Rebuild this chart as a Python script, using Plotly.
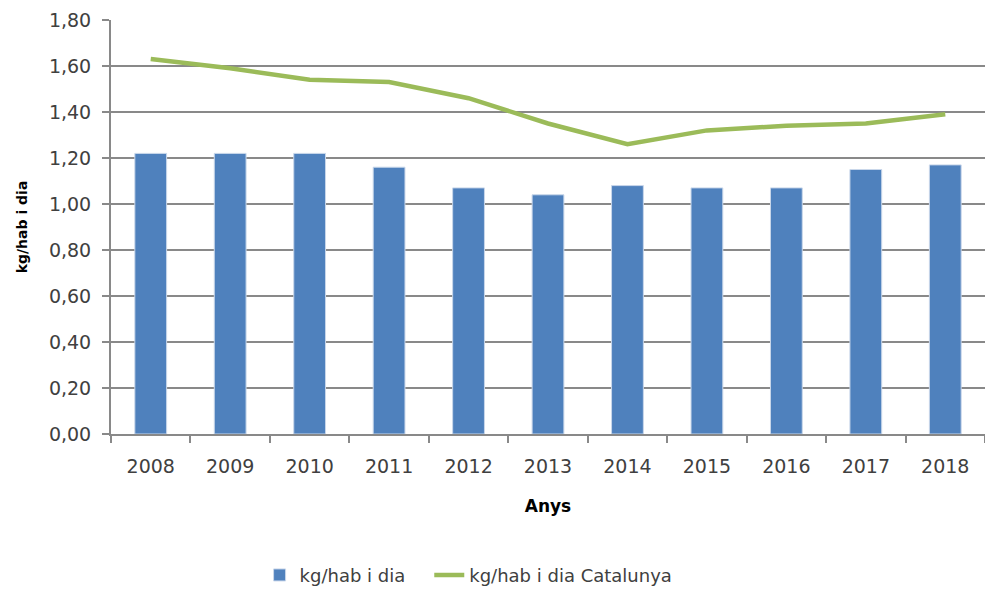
import plotly.graph_objects as go

years = ["2008", "2009", "2010", "2011", "2012", "2013", "2014", "2015", "2016", "2017", "2018"]
kg_hab_dia = [1.22, 1.22, 1.22, 1.16, 1.07, 1.04, 1.08, 1.07, 1.07, 1.15, 1.17]
kg_hab_dia_catalunya = [1.63, 1.59, 1.54, 1.53, 1.46, 1.35, 1.26, 1.32, 1.34, 1.35, 1.39]
y_ticks = [0, 0.2, 0.4, 0.6, 0.8, 1.0, 1.2, 1.4, 1.6, 1.8]

font_family = "DejaVu Sans, sans-serif"
text_color = "#404040"
grid_color = "#898989"

fig = go.Figure()
fig.add_trace(go.Bar(
    x=years, y=kg_hab_dia,
    name="kg/hab i dia<span style='color:rgba(0,0,0,0)'>__</span>",
    hovertemplate="%{x}: %{y}<extra>kg/hab i dia</extra>",
    marker=dict(color="#4F81BD", line=dict(color="#C9D7EA", width=1)),
))
fig.add_trace(go.Scatter(
    x=years, y=kg_hab_dia_catalunya, name="kg/hab i dia Catalunya",
    mode="lines", line=dict(color="#9BBB59", width=4.5),
))

fig.update_layout(
    width=985, height=590,
    margin=dict(l=111, r=0, t=20, b=156, autoexpand=False),
    paper_bgcolor="white", plot_bgcolor="white",
    separators=",.",
    bargap=0.6,
    font=dict(family=font_family, size=16, color=text_color),
    showlegend=True,
    legend=dict(orientation="h", x=0.170, xanchor="left",
                yref="container", y=0.025, yanchor="middle",
                font=dict(size=18, color=text_color),
                traceorder="normal"),
)
fig.update_xaxes(
    type="category", tickson="boundaries",
    showline=True, linecolor=grid_color, linewidth=2,
    ticks="outside", ticklen=7, tickcolor=grid_color, tickwidth=2,
    ticklabelstandoff=14,
    showgrid=False,
    tickfont=dict(size=19, color=text_color),
    title=dict(text="<b>Anys</b>", font=dict(size=17, color="#000000"), standoff=24),
)
fig.update_yaxes(
    range=[0, 1.8], tickvals=y_ticks, tickformat=".2f",
    showline=True, linecolor=grid_color, linewidth=2,
    ticks="outside", ticklen=7, tickcolor=grid_color, tickwidth=2,
    ticklabelstandoff=7,
    showgrid=True, gridcolor=grid_color, gridwidth=1.5,
    zeroline=False,
    tickfont=dict(size=19, color=text_color),
    title=dict(text="<b>kg/hab i dia</b>", font=dict(size=14, color="#000000"), standoff=18),
)

fig.write_html("out.html", config={"displayModeBar": False},
               post_script="document.body.style.margin='0px';")
